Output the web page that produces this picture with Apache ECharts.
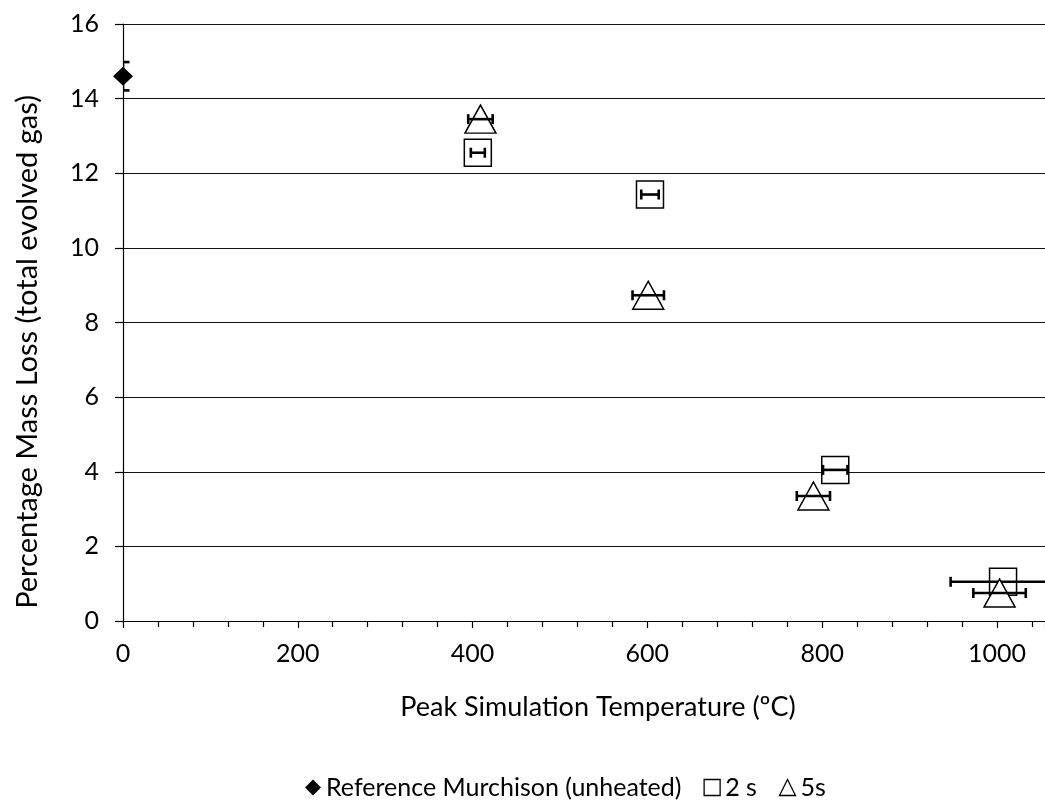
<!DOCTYPE html>
<html>
<head>
<meta charset="utf-8">
<script src="https://cdn.jsdelivr.net/npm/echarts@6/dist/echarts.min.js"></script>
<style>
  html, body { margin: 0; padding: 0; background: #fff; }
  #chart { width: 1045px; height: 804px; }
</style>
</head>
<body>
<div id="chart"></div>
<script>
// Peak simulation temperature (°C) vs. percentage mass loss, with error bars
const refTemp = [0];
const refLoss = [14.6];
const refTempErr = [0];
const refLossErr = [0.38];

const temp2s = [406, 603, 815, 1007];
const loss2s = [12.55, 11.43, 4.05, 1.05];
const tempErr2s = [8, 10, 14, 60];
const lossErr2s = [0, 0, 0, 0];

const temp5s = [409, 601, 790, 1003];
const loss5s = [13.45, 8.73, 3.35, 0.75];
const tempErr5s = [14, 18, 19, 30];
const lossErr5s = [0, 0, 0, 0];

const xTicks = [0, 200, 400, 600, 800, 1000];
const yTicks = [0, 2, 4, 6, 8, 10, 12, 14, 16];

const FONT = 'Lato, "Open Sans", sans-serif';

function pairs(xs, ys) {
  return xs.map((x, i) => [x, ys[i]]);
}

function errorSeries(xs, ys, xe, ye, z) {
  return {
    type: 'custom',
    z: z,
    clip: true,
    silent: true,
    data: xs.map((x, i) => [x, ys[i], xe[i], ye[i]]),
    renderItem: function (params, api) {
      const x = api.value(0), y = api.value(1), ex = api.value(2), ey = api.value(3);
      const style = { stroke: '#000', lineWidth: 2.6 };
      const kids = [];
      const cap = 5;
      if (ex > 0) {
        const l = api.coord([x - ex, y]);
        const r = api.coord([x + ex, y]);
        kids.push({ type: 'line', shape: { x1: l[0], y1: l[1], x2: r[0], y2: r[1] }, style });
        kids.push({ type: 'line', shape: { x1: l[0], y1: l[1] - cap, x2: l[0], y2: l[1] + cap }, style });
        kids.push({ type: 'line', shape: { x1: r[0], y1: r[1] - cap, x2: r[0], y2: r[1] + cap }, style });
      }
      if (ey > 0) {
        const t = api.coord([x, y + ey]);
        const b = api.coord([x, y - ey]);
        const w = 6.5;
        kids.push({ type: 'line', shape: { x1: t[0], y1: t[1], x2: b[0], y2: b[1] }, style });
        kids.push({ type: 'line', shape: { x1: t[0] - w, y1: t[1], x2: t[0] + w, y2: t[1] }, style });
        kids.push({ type: 'line', shape: { x1: b[0] - w, y1: b[1], x2: b[0] + w, y2: b[1] }, style });
      }
      return { type: 'group', children: kids };
    }
  };
}

const chart = echarts.init(document.getElementById('chart'), null, { renderer: 'canvas' });

chart.setOption({
  backgroundColor: '#fff',
  animation: false,
  textStyle: { fontFamily: FONT, color: '#000' },
  grid: { left: 123, top: 24, right: 0, bottom: 183, containLabel: false },
  xAxis: {
    type: 'value',
    min: 0,
    max: 1055,
    interval: 200,
    axisLine: { show: true, onZero: false, lineStyle: { color: '#000', width: 1.2 } },
    axisTick: { show: true, inside: false, length: 7, lineStyle: { color: '#000', width: 1.2 } },
    minorTick: { show: true, splitNumber: 5, length: 6, lineStyle: { color: '#000', width: 1.2 } },
    splitLine: { show: false },
    axisLabel: {
      show: true, margin: 20, fontFamily: FONT, fontSize: 25, color: '#000',
      showMaxLabel: false,
      formatter: v => (xTicks.indexOf(v) >= 0 ? String(v) : '')
    }
  },
  yAxis: {
    type: 'value',
    min: 0,
    max: 16,
    interval: 2,
    axisLine: { show: true, onZero: false, lineStyle: { color: '#000', width: 1.2 } },
    axisTick: { show: true, inside: false, length: 8, lineStyle: { color: '#000', width: 1.2 } },
    splitLine: { show: true, lineStyle: { color: '#111', width: 1 } },
    axisLabel: {
      margin: 24, fontFamily: FONT, fontSize: 25, color: '#000',
      formatter: v => (yTicks.indexOf(v) >= 0 ? String(v) : '')
    }
  },
  legend: {
    left: 300,
    top: 770,
    itemWidth: 16,
    itemHeight: 16,
    itemGap: 22,
    textStyle: { fontFamily: FONT, fontSize: 25, color: '#000' },
    data: [
      { name: 'Reference Murchison (unheated)', icon: 'diamond', itemStyle: { color: '#000' } },
      { name: '2 s', icon: 'rect', itemStyle: { color: '#fff', borderColor: '#000', borderWidth: 1.3 } },
      { name: '5s', icon: 'triangle', itemStyle: { color: '#fff', borderColor: '#000', borderWidth: 1.3 } }
    ]
  },
  graphic: [{
    type: 'text',
    x: 28,
    y: 352,
    rotation: Math.PI / 2,
    style: {
      text: 'Percentage Mass Loss (total evolved gas)',
      fontFamily: FONT,
      fontSize: 29,
      fill: '#000',
      align: 'center',
      verticalAlign: 'middle'
    }
  }, {
    type: 'text',
    x: 598,
    y: 707,
    style: {
      text: 'Peak Simulation Temperature (ºC)',
      fontFamily: FONT,
      fontSize: 27,
      fill: '#000',
      align: 'center',
      verticalAlign: 'middle'
    }
  }],
  series: [
    {
      name: 'Reference Murchison (unheated)',
      type: 'scatter',
      z: 2,
      symbol: 'diamond',
      symbolSize: [20, 19],
      itemStyle: { color: '#000', opacity: 1 },
      data: pairs(refTemp, refLoss)
    },
    errorSeries(refTemp, refLoss, refTempErr, refLossErr, 3),
    {
      name: '2 s',
      type: 'scatter',
      z: 4,
      symbol: 'rect',
      symbolSize: 27,
      itemStyle: { color: '#fff', borderColor: '#000', borderWidth: 1.5, opacity: 1 },
      data: pairs(temp2s, loss2s)
    },
    errorSeries(temp2s, loss2s, tempErr2s, lossErr2s, 5),
    {
      name: '5s',
      type: 'scatter',
      z: 6,
      symbol: 'triangle',
      symbolSize: [31, 28],
      itemStyle: { color: '#fff', borderColor: '#000', borderWidth: 1.5, opacity: 1 },
      data: pairs(temp5s, loss5s)
    },
    errorSeries(temp5s, loss5s, tempErr5s, lossErr5s, 7)
  ]
});
</script>
</body>
</html>
